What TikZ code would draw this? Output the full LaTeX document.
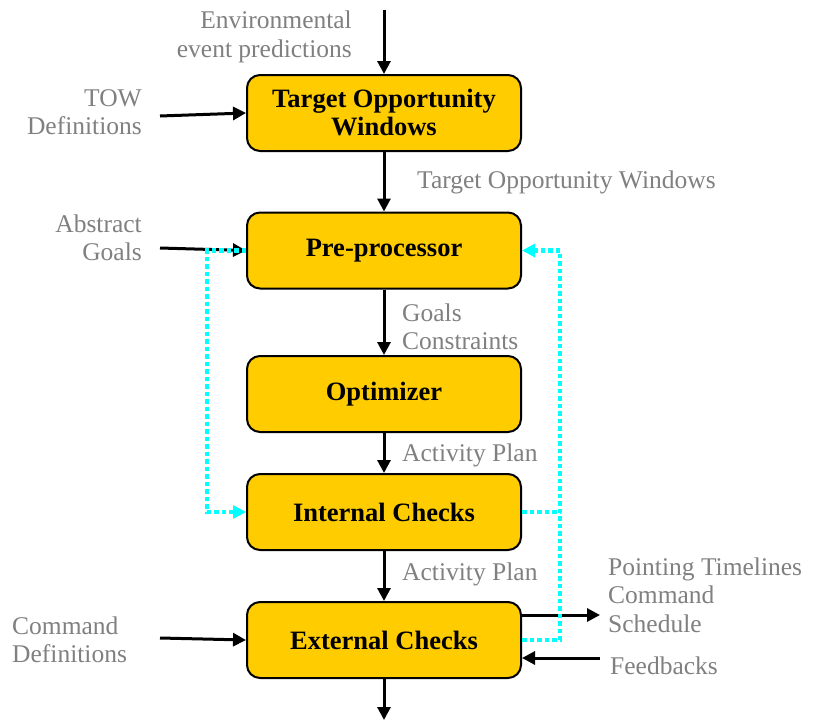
\documentclass[tikz,border=0pt]{standalone}
\usepackage{fontspec}
\setmainfont{Liberation Serif}
\usetikzlibrary{arrows.meta}
\definecolor{boxfill}{HTML}{FFCC00}
\definecolor{labelgray}{HTML}{808080}
\definecolor{loopcyan}{HTML}{00FFFF}

\begin{document}
\begin{tikzpicture}[x=1pt,y=-1pt,
  stage/.style={draw=black, line width=2pt, fill=boxfill, rounded corners=13pt,
    minimum width=274pt, minimum height=76pt, inner sep=0pt, align=center,
    font=\fontsize{26.5}{28}\selectfont\bfseries},
  lbl/.style={text=labelgray, inner sep=0pt, font=\fontsize{25.5}{28.5}\selectfont},
  flow/.style={draw=black, line width=3pt, -{Triangle[length=13pt,width=13pt]}},
  loopline/.style={draw=loopcyan, line width=4.5pt, dash pattern=on 4.5pt off 3pt},
  loop/.style={loopline, -{Triangle[length=13pt,width=13pt]}}
]
\useasboundingbox (0,0) rectangle (814,720);

% processing stages
\node[stage] (tow) at (384,113) {Target Opportunity\\Windows};
\node[stage] (pre) at (384,250.5) {Pre-processor};
\node[stage] (opt) at (384,394) {Optimizer};
\node[stage] (int) at (384,512) {Internal Checks};
\node[stage] (ext) at (384,640) {External Checks};

% free ends of the external inputs and outputs
\coordinate (envin) at (384,10);
\coordinate (towin) at (160,116);
\coordinate (goalin) at (160,248);
\coordinate (cmdin) at (160,638);
\coordinate (plout) at (600,615);
\coordinate (fbin) at (600,658);
\coordinate (extout) at (384,720);
\coordinate (rightrail) at (560,640);

% labels
\node[lbl, anchor=east, align=right] (envlbl) at (352,37) {Environmental\\event predictions};
\node[lbl, anchor=east, align=right] (towdeflbl) at (142,112) {TOW\\Definitions};
\node[lbl, anchor=east, align=right] (goallbl) at (142,238) {Abstract\\Goals};
\node[lbl, anchor=west, align=left] (cmdlbl) at (12,640) {Command\\Definitions};
\node[lbl, anchor=west] (towlbl) at (417,182) {Target Opportunity Windows};
\node[lbl, anchor=west, align=left] (gclbl) at (402,327) {Goals\\Constraints};
\node[lbl, anchor=west] (ap1lbl) at (402,455) {Activity Plan};
\node[lbl, anchor=west] (ap2lbl) at (402,574) {Activity Plan};
\node[lbl, anchor=west, align=left] (outlbl) at (608,595) {Pointing Timelines\\Command\\Schedule};
\node[lbl, anchor=west] (fblbl) at (610,666) {Feedbacks};

% main flow
\draw[flow] (envin) -- (tow.north);
\draw[flow] (tow.south) -- (pre.north);
\draw[flow] (pre.south) -- (opt.north);
\draw[flow] (opt.south) -- (int.north);
\draw[flow] (int.south) -- (ext.north);
\draw[flow] (ext.south) -- (extout);

% side inputs and outputs
\draw[flow] (towin) -- (tow.west);
\draw[flow] (goalin) -- (pre.west);
\draw[flow] (cmdin) -- (ext.west);
\draw[flow] ([yshift=25pt]ext.east) -- (plout);
\draw[flow] (fbin) -- ([yshift=-18pt]ext.east);

% feedback loops
\draw[loop] (pre.west) -- ++(-39,0) |- (int.west);
\draw[loopline] (int.east) -- (int.east -| rightrail);
\draw[loop] (ext.east) -- (rightrail) |- (pre.east);
\end{tikzpicture}
\end{document}
